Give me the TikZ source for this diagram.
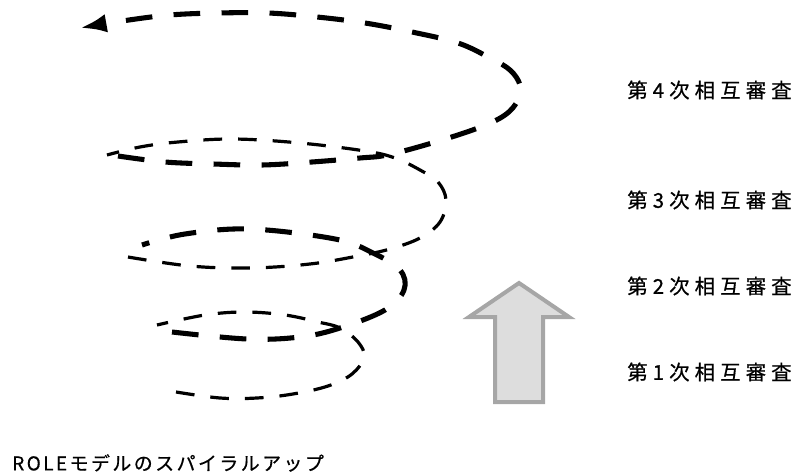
\documentclass[tikz,border=0pt]{standalone}
\usepackage{fontspec}
\newfontfamily\stagefont[LetterSpace=25, FakeBold=0.6]{Noto Sans CJK JP}
\newfontfamily\captionfont[LetterSpace=13, FakeBold=0.6]{Noto Sans CJK JP}
\usetikzlibrary{arrows.meta}
\tikzset{
  thinstrand/.style={line width=2.4pt, dash pattern=on 14pt off 12pt},
  thickstrand/.style={line width=3.8pt, dash pattern=on 20pt off 16pt},
  stagelabel/.style={anchor=west, inner sep=0pt, font=\stagefont\fontsize{15.3}{17}\selectfont},
  captionlabel/.style={anchor=west, inner sep=0pt, font=\captionfont\fontsize{14.2}{16}\selectfont},
  uparrow/.style={draw=gray!70, line width=3pt, fill=gray!27, line join=miter}
}

\begin{document}
\begin{tikzpicture}[x=0.75pt,y=-0.75pt]
            \useasboundingbox (0,0) rectangle (800,474);
            \draw[thinstrand] plot[smooth, tension=0.6] coordinates {(176,392) (220,398) (257,398) (293,394) (328,386) (352,374) (364,357) (358,342) (340,328) (318,322) (285,315) (245,312) (205,315) (157,325)};
            \draw[thickstrand] plot[smooth, tension=0.6] coordinates {(172,332) (247,339) (300,337) (340,328) (385,310) (404,290) (400,270) (373,253) (335,239) (250,229) (185,234) (142,245)};
            \draw[thinstrand] plot[smooth, tension=0.6] coordinates {(128,257) (190,266) (250,268) (310,264) (358,256) (390,249) (420,238) (440,222) (446,200) (438,182) (420,170) (395,158) (365,151) (300,143) (233,139) (178,142) (140,147) (107,155)};
            \draw[thickstrand, -{Latex[length=20pt, width=14pt]}] plot[smooth, tension=0.6] coordinates {(118,156) (165,162) (213,164) (262,165) (312,162) (360,158) (387,155) (432,143) (478,128) (505,115) (518,100) (520,85) (510,70) (490,58) (458,43) (412,32) (365,23) (317,17) (268,13) (218,13) (170,15) (122,21) (80,28)};
            \draw[uparrow] (519,283) -- (569,317) -- (543,317) -- (543,402) -- (495,402) -- (495,317) -- (469,317) -- cycle;
            \node[stagelabel] (stage4) at (627,90) {第4次相互審査};
            \node[stagelabel] (stage3) at (627,200) {第3次相互審査};
            \node[stagelabel] (stage2) at (627,286) {第2次相互審査};
            \node[stagelabel] (stage1) at (627,372) {第1次相互審査};
            \node[captionlabel] (caption) at (12,463) {ROLEモデルのスパイラルアップ};
\end{tikzpicture}
\end{document}
